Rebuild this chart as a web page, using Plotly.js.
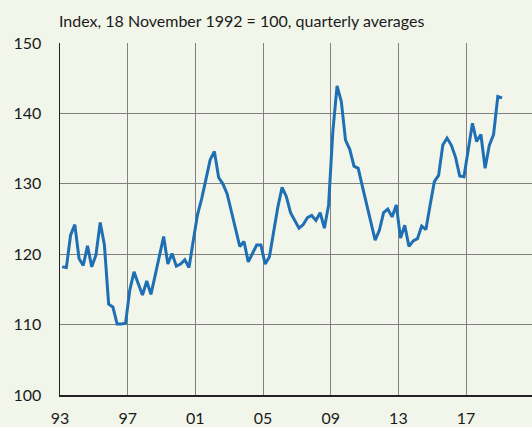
<!DOCTYPE html>
<html>
<head>
<meta charset="utf-8">
<script src="https://cdn.plot.ly/plotly-3.0.1.min.js"></script>
<style>
  html, body { margin: 0; padding: 0; background: #F2F6EA; }
  #chart { width: 532px; height: 427px; }
</style>
</head>
<body>
<div id="chart"></div>
<script>
// Quarterly averages, first quarter = 1993 Q1
const firstYear = 1993;
const indexValues = [
  118.2, 118.1, 122.7, 124.2,   // 1993
  119.4, 118.4, 121.2, 118.2,   // 1994
  119.9, 124.5, 121.3, 112.9,   // 1995
  112.5, 110.1, 110.1, 110.2,   // 1996
  114.9, 117.5, 115.8, 114.2,   // 1997
  116.2, 114.3, 117.0, 119.8,   // 1998
  122.5, 118.6, 120.1, 118.3,   // 1999
  118.6, 119.2, 118.1, 121.9,   // 2000
  125.6, 127.9, 130.7, 133.4,   // 2001
  134.6, 130.9, 130.0, 128.6,   // 2002
  126.1, 123.6, 121.1, 121.8,   // 2003
  118.9, 120.1, 121.3, 121.3,   // 2004
  118.6, 119.6, 123.3, 126.7,   // 2005
  129.5, 128.2, 125.9, 124.9,   // 2006
  123.7, 124.2, 125.2, 125.5,   // 2007
  124.8, 125.9, 123.7, 127.0,   // 2008
  137.4, 143.9, 141.7, 136.2,   // 2009
  134.9, 132.5, 132.2, 129.6,   // 2010
  127.1, 124.5, 122.0, 123.4,   // 2011
  125.9, 126.4, 125.3, 127.0,   // 2012
  122.3, 124.1, 121.1, 121.9,   // 2013
  122.2, 124.0, 123.5, 127.0,   // 2014
  130.3, 131.2, 135.5, 136.5,   // 2015
  135.5, 133.8, 131.1, 131.0,   // 2016
  134.8, 138.6, 136.0, 137.0,   // 2017
  132.2, 135.5, 137.0, 142.4,   // 2018
  142.2                         // 2019
];
const xTickVals = [1993, 1997, 2001, 2005, 2009, 2013, 2017];
const xTickText = ['93', '97', '01', '05', '09', '13', '17'];
const yTickVals = [100, 110, 120, 130, 140, 150];

// mid-quarter positions
const quarterPos = indexValues.map((v, i) => firstYear + (i + 0.5) / 4);

const bg = '#F2F6EA';
const fontFam = 'Lato, "Noto Sans", sans-serif';

const trace = {
  x: quarterPos,
  y: indexValues,
  type: 'scatter',
  mode: 'lines',
  line: { color: '#1F6FB4', width: 3 },
  hoverinfo: 'skip'
};

const layout = {
  width: 532,
  height: 427,
  paper_bgcolor: bg,
  plot_bgcolor: bg,
  margin: { l: 60, r: 0, t: 43, b: 32 },
  showlegend: false,
  font: { family: fontFam, size: 16, color: '#1a1a1a' },
  title: {
    text: 'Index, 18 November 1992 = 100, quarterly averages',
    font: { family: fontFam, size: 16, color: '#1a1a1a' },
    xref: 'container', x: 59 / 532, xanchor: 'left',
    yref: 'container', y: 1 - 21 / 427, yanchor: 'middle'
  },
  xaxis: {
    range: [1993, 1993 + 472 / 16.92],
    tickvals: xTickVals,
    ticktext: xTickText,
    showgrid: true,
    gridcolor: '#808080',
    gridwidth: 1,
    zeroline: false,
    showline: true,
    linecolor: '#222',
    linewidth: 1.5,
    ticks: 'outside',
    ticklen: 8,
    tickcolor: 'rgba(0,0,0,0)',
    tickfont: { family: fontFam, size: 16, color: '#1a1a1a' },
    fixedrange: true
  },
  yaxis: {
    range: [100, 150],
    tickvals: yTickVals,
    showgrid: true,
    gridcolor: '#808080',
    gridwidth: 1,
    zeroline: false,
    showline: true,
    linecolor: '#222',
    linewidth: 1.5,
    ticks: 'outside',
    ticklen: 14,
    tickcolor: 'rgba(0,0,0,0)',
    tickfont: { family: fontFam, size: 16, color: '#1a1a1a' },
    fixedrange: true
  }
};

Plotly.newPlot('chart', [trace], layout, { staticPlot: true, displayModeBar: false });
</script>
</body>
</html>
